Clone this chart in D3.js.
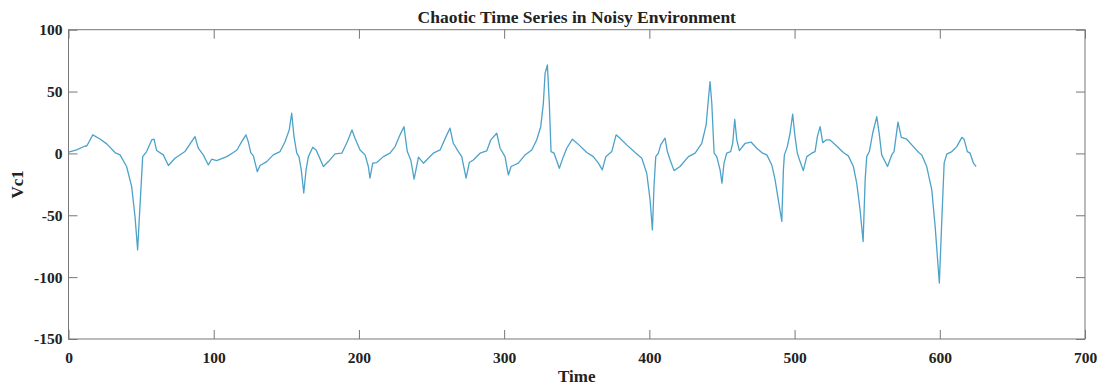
<!DOCTYPE html>
<html>
<head>
<meta charset="utf-8">
<script src="https://cdn.jsdelivr.net/npm/d3@7"></script>
<style>
  body { margin: 0; background: #fff; }
  text { font-family: "Liberation Serif", "Times New Roman", serif; font-weight: bold; fill: #222; }
</style>
</head>
<body>
<div id="chart"></div>
<script>
// values
const timeVals = [0,5.6,11.4,12.6,16.7,21.7,26.3,32,35.5,40,43.5,45.8,47.6,49.2,51.1,53.8,57.3,58.9,60.7,65.3,68.8,73.3,80.2,83.7,87.1,89.4,92.8,96.3,98.6,102,109,113.5,116,119.3,122.2,123.8,125.5,127.3,130,131.9,136.5,141,145.7,149.1,152,153.7,155.3,157.2,158.7,160.3,162,163.6,165.2,168.2,170.5,172.7,175.5,179,183.5,188.2,192,195.2,197.3,200.8,204.2,206.5,207.6,209.5,212.3,216.8,221.4,224.9,228.3,231,233.3,235.7,238,241,244.4,251.2,255.9,260.5,262.7,265,268.5,270.8,273.8,276,278.8,283.4,288,290.8,294.9,297.2,300.6,302.9,304.8,309.8,314.4,319,322.4,325.2,327,328.2,329.8,331.1,332.3,334.4,338,340.8,343.1,347,351.5,356.9,361.4,364.9,367.6,370,374.1,377.1,379.8,384.4,390.2,394.8,398.2,400.5,402.1,403.2,404.4,406.2,407.8,410.8,412.4,414.3,417,421.1,426.9,431.5,436.1,439.1,440.6,441.8,443,444.6,446.4,448.7,450,451.4,453.3,456,457.4,458.8,460.2,462,466,470,474,478,480.9,484.3,486.6,488.8,491.2,492.3,493,495,496.9,498.7,500.3,501.9,503.8,506,508.4,511.8,514.1,515.7,517.6,519.4,521.7,524.4,529,533.6,537,540.5,542.8,545.1,547.2,548.6,549.7,551.5,553.8,556.6,558.4,560,564,566.9,568.5,571.2,573.5,577.2,581.8,585.5,587.6,591,594.5,596.8,599.7,601.4,603,604.8,608.3,611.7,615.2,616.7,619,620.9,623.2,625];
const vc1Vals = [1,2.8,6,6,15,11.7,7.7,0.7,-1.2,-10.6,-26.8,-51,-78,-43,-2.6,1.5,10.9,11.5,2.3,-1.2,-9.8,-3.9,1.5,7.7,13.6,4.2,-1.2,-9.3,-4.7,-5.8,-2.6,0.7,2.8,9.5,15,9.5,0.7,-2,-14.7,-9.8,-6.6,-1.2,1.5,9.5,19,32.5,13.6,0.2,-2.6,-13.3,-32,-13.3,-2.6,5,2.8,-3,-10.6,-6.6,-0.4,0.2,9.5,19,12.3,2.8,-1.2,-10.6,-20,-7.9,-7.4,-2.6,0.2,5.5,15,21.6,1.5,-5.3,-20.8,-3,-7.9,0.2,2.8,15,20.4,8.2,1.5,-2.6,-20,-7.4,-5.3,0.2,2,10.9,16.3,4.2,-2.6,-17.4,-10.6,-7.9,-1.2,2.8,10.9,21.6,40.5,64.8,71.5,40.5,1.5,0.2,-12,-2.6,4.2,11.5,6.9,0.7,-2.6,-7.9,-13.3,-2.6,1.5,15,12.3,6.9,0.7,-3.9,-16,-37.6,-61.8,-26.8,-2.6,0.2,6.9,12.3,1.5,-5.3,-13.9,-10.6,-2.6,0.2,8.2,23,43.2,58,40.5,0.2,-2.6,-13.3,-24,-7.9,0.2,1.5,8.2,27.6,10.9,2.3,8.2,9.2,4.2,0.2,-1.2,-9.3,-21.4,-37.6,-55,-13.3,-1.2,5.5,16.3,31.7,13.6,0.2,-6.6,-13.9,-2.6,0.2,1.5,13.6,21.6,8.7,10.9,10.9,6,0.7,-2,-10.6,-24,-45.6,-71.2,-21.4,-2.6,1.5,16.3,29.7,15,-1.2,-10.6,-1.2,1.5,25.3,13,11.5,5.5,0.7,-1.2,-10.6,-29.5,-59,-104.8,-53.7,-7.9,-0.6,1.5,5.5,13,11.5,1.5,0.2,-7.9,-10.6];
const xTicks = [0,100,200,300,400,500,600,700];
const yTicks = [100,50,0,-50,-100,-150];

const svgWidth = 1102, svgHeight = 385;
const margin = { top: 29.7, right: 17, bottom: 46, left: 68.5 };
const width = svgWidth - margin.left - margin.right;
const height = svgHeight - margin.top - margin.bottom;

const svg = d3.select("#chart").append("svg")
  .attr("width", svgWidth)
  .attr("height", svgHeight);
const g = svg.append("g").attr("transform", `translate(${margin.left},${margin.top})`);

const x = d3.scaleLinear().domain([0, 700]).range([0, width]);
const y = d3.scaleLinear().domain([-150, 100]).range([height, 0]);

const axisColor = "#777";
const tick = 9;
const plain = d => String(d); // hyphen minus, like the original

// bottom and left axes with inward ticks
const xAxis = g.append("g").attr("transform", `translate(0,${height})`)
  .call(d3.axisBottom(x).tickValues(xTicks).tickFormat(plain).tickSizeInner(-tick).tickSizeOuter(0).tickPadding(13));
const yAxis = g.append("g")
  .call(d3.axisLeft(y).tickValues(yTicks).tickFormat(plain).tickSizeInner(-tick).tickSizeOuter(0).tickPadding(6));
// mirrored top and right ticks
const xTop = g.append("g")
  .call(d3.axisTop(x).tickValues(xTicks).tickSizeInner(-tick).tickSizeOuter(0).tickFormat(""));
const yRight = g.append("g").attr("transform", `translate(${width},0)`)
  .call(d3.axisRight(y).tickValues(yTicks).tickSizeInner(-tick).tickSizeOuter(0).tickFormat(""));

[xAxis, yAxis, xTop, yRight].forEach(a => {
  a.select(".domain").remove();
  a.selectAll("line").attr("stroke", axisColor);
  a.selectAll("text")
    .style("font-family", '"Liberation Serif", serif')
    .style("font-weight", "bold")
    .style("font-size", "15.5px")
    .attr("fill", "#222");
});

g.append("rect")
  .attr("width", width).attr("height", height)
  .attr("fill", "none").attr("stroke", axisColor).attr("stroke-width", 1);

const pts = timeVals.map((t, i) => ({ t: t, v: vc1Vals[i] }));
const line = d3.line().x(d => x(d.t)).y(d => y(d.v));
g.append("path")
  .datum(pts)
  .attr("fill", "none")
  .attr("stroke", "#4da2c9")
  .attr("stroke-width", 1.3)
  .attr("stroke-linejoin", "round")
  .attr("d", line);

// title and axis labels
svg.append("text")
  .attr("x", margin.left + width / 2).attr("y", 23)
  .attr("text-anchor", "middle")
  .style("font-size", "17.5px")
  .text("Chaotic Time Series in Noisy Environment");
svg.append("text")
  .attr("x", margin.left + width / 2).attr("y", 382)
  .attr("text-anchor", "middle")
  .style("font-size", "17px")
  .text("Time");
svg.append("text")
  .attr("transform", `translate(23,${margin.top + height / 2}) rotate(-90)`)
  .attr("text-anchor", "middle")
  .style("font-size", "17px")
  .text("Vc1");
</script>
</body>
</html>
